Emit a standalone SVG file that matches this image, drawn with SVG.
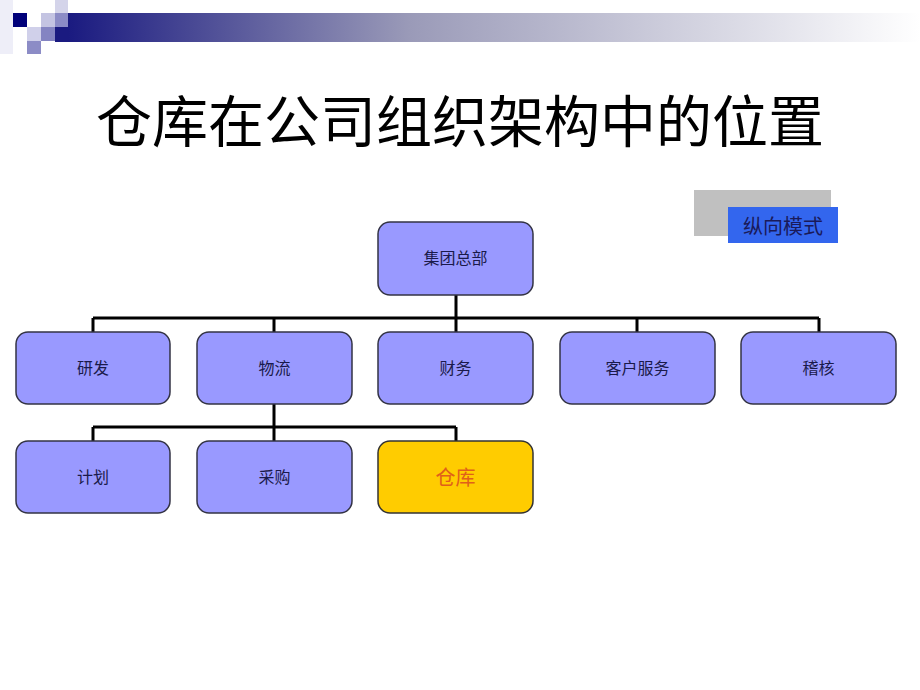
<svg xmlns="http://www.w3.org/2000/svg" width="920" height="690" viewBox="0 0 920 690">
<defs>
<linearGradient id="bar" x1="0" y1="0" x2="1" y2="0">
<stop offset="0" stop-color="#1a1a80"/>
<stop offset="0.4" stop-color="#9a9ab8"/>
<stop offset="1" stop-color="#ffffff"/>
</linearGradient>
<style>
.node{fill:#9999ff;stroke:#333344;stroke-width:1.5}
.hl{fill:#ffcc00;stroke:#333333;stroke-width:1.5}
.lbl{font-family:"Noto Sans CJK SC",sans-serif;font-size:16px;fill:#1a1a4a;text-anchor:middle}
.conn{stroke:#000;stroke-width:3;fill:none}
</style>
</defs>
<rect width="920" height="690" fill="#ffffff"/>
<g id="decor">
<rect x="0" y="0" width="13" height="54" fill="#eeeef8"/>
<rect x="68" y="13" width="852" height="29" fill="url(#bar)"/>
<rect x="55" y="0" width="13" height="13" fill="#d4d4ea"/>
<rect x="41" y="13" width="14" height="14" fill="#c4c4e2"/>
<rect x="55" y="13" width="13" height="14" fill="#8c8cc6"/>
<rect x="55" y="27" width="13" height="15" fill="#1a1a80"/>
<rect x="13" y="13" width="14" height="14" fill="#00007a"/>
<rect x="27" y="27" width="14" height="14" fill="#d0d0ea"/>
<rect x="41" y="27" width="14" height="14" fill="#8484c2"/>
<rect x="27" y="41" width="14" height="13" fill="#8c8cc6"/>
</g>
<text x="460" y="142" font-family="Noto Sans CJK SC, sans-serif" font-size="56" text-anchor="middle" fill="#000">仓库在公司组织架构中的位置</text>
<g id="legend">
<rect x="694" y="190" width="137" height="46" fill="#c0c0c0"/>
<rect x="728" y="207" width="110" height="36" fill="#3366ee"/>
<text x="783" y="234" font-family="Noto Sans CJK SC, sans-serif" font-size="20" text-anchor="middle" fill="#1a1a5a">纵向模式</text>
</g>
<g id="connectors">
<path class="conn" d="M456 295V318M93 318H819M93 318V332M274 318V332M456 318V332M637 318V332M819 318V332"/>
<path class="conn" d="M274 404V427M93 427H456M93 427V441M274 427V441M456 427V441"/>
</g>
<g id="n-hq"><rect class="node" x="378" y="222" width="155" height="73" rx="12"/><text class="lbl" x="455.5" y="264">集团总部</text></g>
<g id="n-rd"><rect class="node" x="16" y="332" width="154" height="72" rx="12"/><text class="lbl" x="93" y="374">研发</text></g>
<g id="n-log"><rect class="node" x="197" y="332" width="155" height="72" rx="12"/><text class="lbl" x="274.5" y="374">物流</text></g>
<g id="n-fin"><rect class="node" x="378" y="332" width="155" height="72" rx="12"/><text class="lbl" x="455.5" y="374">财务</text></g>
<g id="n-cs"><rect class="node" x="560" y="332" width="155" height="72" rx="12"/><text class="lbl" x="637.5" y="374">客户服务</text></g>
<g id="n-audit"><rect class="node" x="741" y="332" width="155" height="72" rx="12"/><text class="lbl" x="818.5" y="374">稽核</text></g>
<g id="n-plan"><rect class="node" x="16" y="441" width="154" height="72" rx="12"/><text class="lbl" x="93" y="483">计划</text></g>
<g id="n-buy"><rect class="node" x="197" y="441" width="155" height="72" rx="12"/><text class="lbl" x="274.5" y="483">采购</text></g>
<g id="n-wh"><rect class="hl" x="378" y="441" width="155" height="72" rx="12"/><text x="455.5" y="485" font-family="Noto Sans CJK SC, sans-serif" font-size="20" text-anchor="middle" fill="#e0601a">仓库</text></g>
</svg>
